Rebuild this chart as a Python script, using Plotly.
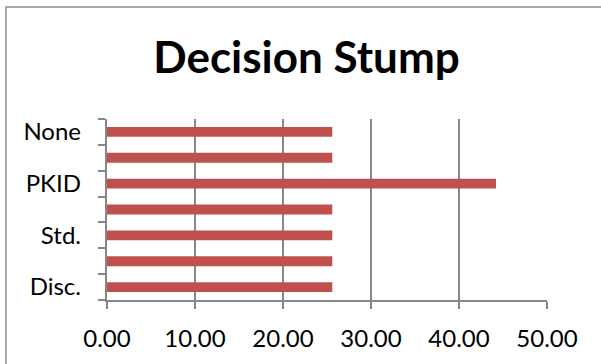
import plotly.graph_objects as go

# Accuracy per preprocessing method, listed bottom to top
values = [25.6, 25.6, 25.6, 25.6, 44.2, 25.6, 25.6]
label_positions = [0, 2, 4, 6]
tick_labels = ["Disc.", "Std.", "PKID", "None"]
x_ticks = [0, 10, 20, 30, 40, 50]

BAR = "#C0504D"
GRID = "#878787"
FONT = "Lato"

W, H = 601, 364
L, R, T, B = 107, 54, 119, 64

positions = list(range(len(values)))
boundaries = [p - 0.5 for p in positions] + [positions[-1] + 0.5]

fig = go.Figure()
fig.add_trace(go.Bar(
    x=values, y=positions, orientation="h",
    marker=dict(color=BAR, line=dict(width=0)),
    width=0.38, hoverinfo="x",
))
# invisible trace carrying the category labels on a second y axis
fig.add_trace(go.Scatter(x=[None], y=[None], yaxis="y2", showlegend=False))

pw, ph = W - L - R, H - T - B

fig.update_layout(
    width=W, height=H,
    margin=dict(l=L, r=R, t=T, b=B, pad=0),
    paper_bgcolor="white", plot_bgcolor="white",
    showlegend=False,
    font=dict(family=FONT, color="black"),
    title=dict(
        text="<b>Decision Stump</b>",
        font=dict(family=FONT, size=44, color="black"),
        x=306.5 / W, xanchor="center", xref="container",
        y=1 - 58 / H, yanchor="middle", yref="container",
    ),
    xaxis=dict(
        range=[0, 50], tickvals=x_ticks, tickformat=".2f",
        showgrid=True, gridcolor=GRID, gridwidth=1.5,
        showline=True, linecolor=GRID, linewidth=1.5,
        ticks="outside", ticklen=7, tickcolor=GRID, tickwidth=1.5,
        tickfont=dict(family=FONT, size=24, color="black"),
        ticklabelstandoff=9,
        zeroline=False, fixedrange=True,
    ),
    yaxis=dict(
        range=[-0.5, len(values) - 0.5],
        tickvals=boundaries, ticktext=[""] * len(boundaries),
        showgrid=False, zeroline=False,
        showline=True, linecolor=GRID, linewidth=1.5,
        ticks="outside", ticklen=7, tickcolor=GRID, tickwidth=1.5,
        fixedrange=True,
    ),
    yaxis2=dict(
        overlaying="y", side="left", anchor="x",
        range=[-0.5, len(values) - 0.5],
        tickvals=label_positions, ticktext=tick_labels,
        showgrid=False, zeroline=False, showline=False, ticks="",
        tickfont=dict(family=FONT, size=24, color="black"),
        ticklabelstandoff=25,
        fixedrange=True,
    ),
    bargap=0.62,
)

# chart frame
fig.add_shape(
    type="rect", xref="paper", yref="paper",
    x0=(6 - L) / pw, x1=(W + 10 - L) / pw,
    y0=-(B + 10) / ph, y1=(H - B - 7) / ph,
    line=dict(color="#8C8C8C", width=1.5), fillcolor="rgba(0,0,0,0)",
    layer="below",
)

fig.write_html("out.html")
